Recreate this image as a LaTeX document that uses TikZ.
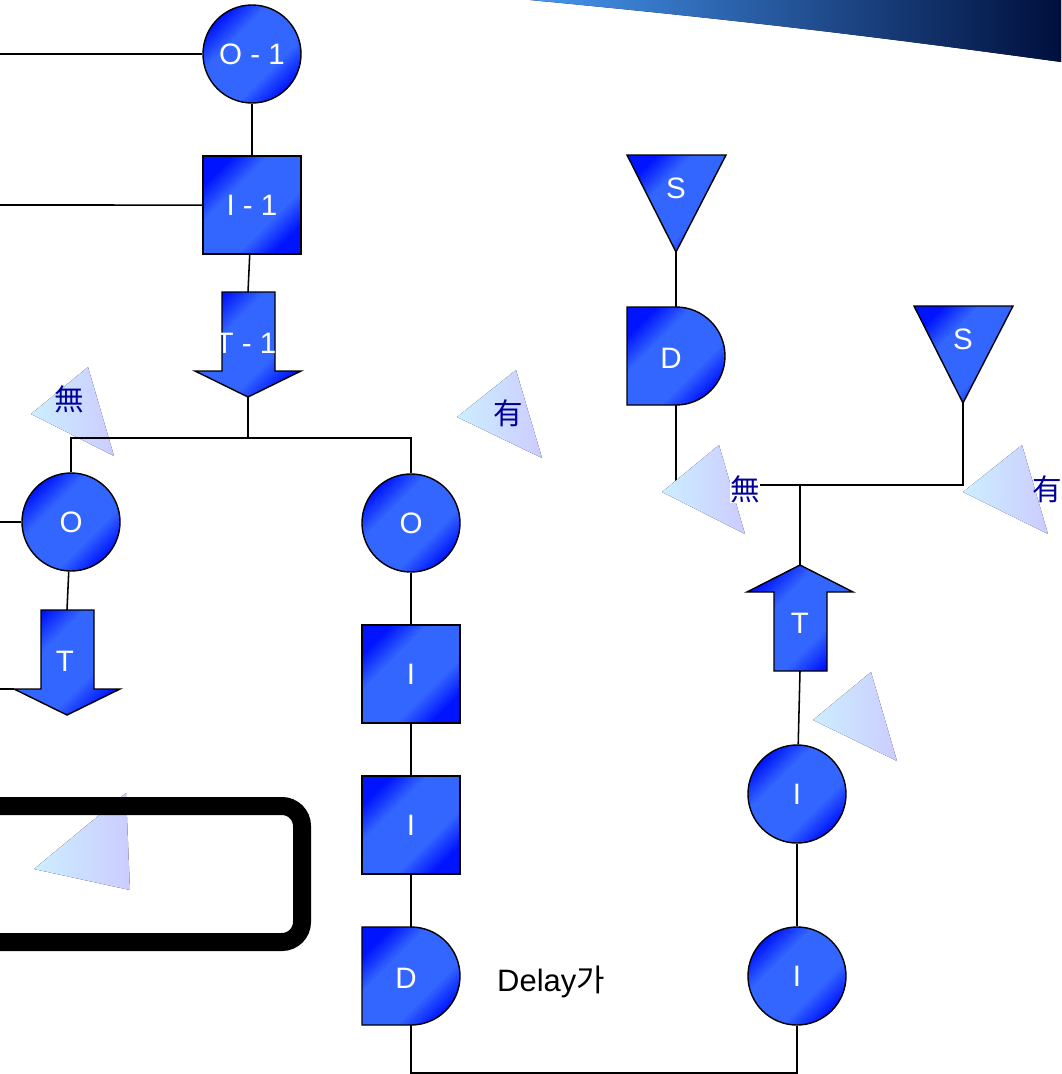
\documentclass[tikz,border=0pt]{standalone}
\usepackage{fontspec}
\setmainfont{Liberation Sans}
\newfontfamily\cjk{Noto Sans CJK KR}
\usetikzlibrary{positioning}
\definecolor{deepblue}{RGB}{0,20,255}
\definecolor{midblue}{RGB}{51,102,255}
\definecolor{hintleft}{RGB}{204,238,255}
\definecolor{hintright}{RGB}{204,204,255}
\definecolor{navyword}{RGB}{0,0,153}
\definecolor{swooshlight}{RGB}{70,150,240}
\definecolor{swooshmid}{RGB}{20,105,235}
\definecolor{swooshdark}{RGB}{0,15,60}
\pgfdeclareverticalshading{bluegleam}{100bp}{color(0bp)=(deepblue); color(25bp)=(deepblue);
  color(38bp)=(midblue); color(62bp)=(midblue); color(75bp)=(deepblue); color(100bp)=(deepblue)}

\tikzset{
  every node/.style={font=\fontsize{21}{24}\selectfont, text=white},
  bluefill/.style={draw=black, line width=1pt, shading=bluegleam, shading angle=45},
  roundnode/.style={bluefill, circle, minimum size=2.45cm, inner sep=0pt},
  squarenode/.style={bluefill, rectangle, minimum size=2.45cm, inner sep=0pt},
  hint/.style={left color=hintleft, right color=hintright},
  hanja/.style={font=\cjk\fontsize{21}{24}\selectfont, text=navyword, inner sep=0pt},
  wire/.style={line width=1.1pt},
  downarrow/.pic={
    \path[bluefill] (-26,0) -- (27,0) -- (27,79) -- (53,79) -- (0,105) -- (-53,79) -- (-26,79) -- cycle;
    \coordinate (-top) at (0,0);
    \coordinate (-tip) at (0,105);
    \coordinate (-wing) at (-53,79);
    \node at (-2,51) {#1};
  },
  uparrow/.pic={
    \path[bluefill] (-26,0) -- (-26,-79) -- (-53,-79) -- (0,-106) -- (53,-79) -- (27,-79) -- (27,0) -- cycle;
    \coordinate (-bot) at (0,0);
    \coordinate (-tip) at (0,-106);
    \node at (0,-48) {#1};
  },
  delay/.pic={
    \path[bluefill] (-49,-49) -- (0,-49) arc (-90:90:49) -- (-49,49) -- cycle;
    \coordinate (-top) at (0,-49);
    \coordinate (-bot) at (0,49);
    \node at (-5,2) {#1};
  },
  sdown/.pic={
    \path[bluefill] (-49,0) -- (50,0) -- (0,97) -- cycle;
    \coordinate (-tip) at (0,97);
    \node at (0,33) {#1};
  }
}

\begin{document}
\begin{tikzpicture}[x=0.025cm, y=-0.025cm, node distance=3.775cm]
\useasboundingbox (0,0) rectangle (1061,1074);

% corner swoosh
\fill[left color=swooshlight, middle color=swooshmid, right color=swooshdark]
  (530,0) -- (1061,0) -- (1061,62) .. controls (900,40) and (760,22) .. (530,0) -- cycle;

% hint triangles
\fill[hint] (88,367) -- (31,414) -- (114,456) -- cycle;
\fill[hint] (516,370) -- (457,417) -- (542,458) -- cycle;
\fill[hint] (1022,445) -- (963,492) -- (1048,534) -- cycle;
\fill[hint] (871,672) -- (813,720) -- (897,761) -- cycle;
\fill[hint] (126,793) -- (34,869) -- (130,890) -- cycle;

\node[hanja] (nonel) at (69,399) {無};
\node[hanja] (havel) at (508,413) {有};
\node[hanja] (haver) at (1047,489) {有};

% left column
\node[roundnode] (o1) at (252,54) {O - 1};
\node[squarenode, below of=o1] (i1) {I - 1};
\pic (ta) at (248,292) {downarrow=T - 1};
\coordinate (fork) at (248,438);
\node[roundnode] (ol) at (71,522) {O};
\pic (tl) at (67,610) {downarrow=T};
\coordinate (lo1) at (0,54);
\coordinate (li1) at (0,205);
\coordinate (lol) at (0,522);
\coordinate (ltl) at (0,689);

% middle column
\node[roundnode] (or) at (411,523) {O};
\node[squarenode, below of=or] (ia) {I};
\node[squarenode, below of=ia] (ib) {I};
\pic (da) at (411,976) {delay=D};
\node[text=black, font=\fontsize{22}{24}\selectfont] (note) at (551,982) {Delay{\cjk 가}};
\coordinate (basel) at (411,1073);
\coordinate (baser) at (797,1073);

% right column
\pic (sa) at (676,155) {sdown=S};
\pic (db) at (676,356) {delay=D};
\pic (sb) at (963,306) {sdown=S};
\coordinate (joinl) at (676,485);
\coordinate (joinm) at (800,485);
\coordinate (joinr) at (963,485);
\pic (tr) at (800,671) {uparrow=T};
\node[roundnode] (ic) at (797,794) {I};
\node[roundnode] (id) at (797,976) {I};

\draw[wire] (lo1) -- (o1);
\draw[wire] (li1) -- (i1);
\draw[wire] (o1) -- (i1);
\draw[wire] (i1) -- (ta-top);
\draw[wire] (ta-tip) -- (fork);
\draw[wire] (ol) |- (fork) -| (or);
\draw[wire] (lol) -- (ol);
\draw[wire] (ol) -- (tl-top);
\draw[wire] (ltl) -- (tl-wing);
\draw[wire] (or) -- (ia);
\draw[wire] (ia) -- (ib);
\draw[wire] (ib) -- (da-top);
\draw[wire] (da-bot) -- (basel) -- (baser) -- (id);
\draw[wire] (ic) -- (id);
\draw[wire] (ic) -- (tr-bot);
\draw[wire] (tr-tip) -- (joinm);
\draw[wire] (sa-tip) -- (db-top);
\draw[wire] (db-bot) -- (joinl) -- (joinr) -- (sb-tip);

% covers the joint on the right
\fill[hint] (719,445) -- (662,492) -- (745,534) -- cycle;
\node[hanja, fill=white] (noner) at (745,489) {無};

% thick frame
\draw[line width=0.45cm, rounded corners=0.5cm] (-40,806) rectangle (302,942);
\end{tikzpicture}
\end{document}
